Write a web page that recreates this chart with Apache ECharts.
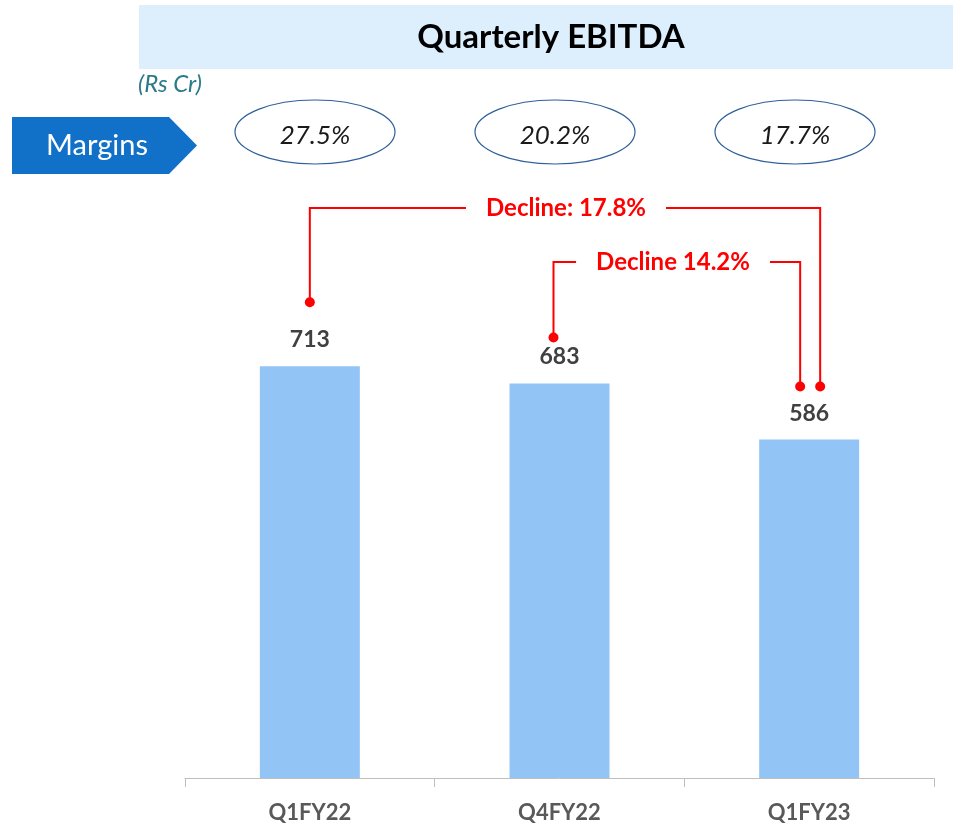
<!DOCTYPE html>
<html>
<head>
<meta charset="utf-8">
<script src="https://cdn.jsdelivr.net/npm/echarts@6/dist/echarts.min.js"></script>
<style>
  html, body { margin: 0; padding: 0; background: #fff; }
  #main { width: 953px; height: 827px; }
</style>
</head>
<body>
<div id="main"></div>
<script>
// 季度 EBITDA 数据
const quarters = ["Q1FY22", "Q4FY22", "Q1FY23"];
const ebitda = [713, 683, 586];
const margins = ["27.5%", "20.2%", "17.7%"];
const declines = ["Decline: 17.8%", "Decline 14.2%"];

const FONT = "Lato, 'Open Sans', sans-serif";
let myChart = echarts.init(document.getElementById("main"));

let option = {
  animation: false,
  grid: { left: 185, right: 19, top: 316, bottom: 49 },
  xAxis: {
    type: "category",
    data: quarters,
    axisLine: { lineStyle: { color: "#bfbfbf", width: 1 } },
    axisTick: { show: true, length: 9, lineStyle: { color: "#bfbfbf" } },
    axisLabel: {
      margin: 24,
      fontFamily: FONT,
      fontSize: 22,
      fontWeight: "bold",
      color: "#595959",
    },
  },
  yAxis: {
    type: "value",
    min: 0,
    max: 800,
    show: false,
    splitLine: { show: false },
  },
  series: [
    {
      type: "bar",
      data: ebitda,
      barWidth: 100,
      itemStyle: { color: "#92c5f5" },
      label: {
        show: true,
        position: "top",
        distance: 15,
        fontFamily: FONT,
        fontSize: 23,
        fontWeight: "bold",
        color: "#404040",
      },
    },
  ],
};
myChart.setOption(option);

// 顶部标题、单位、Margins 箭头和椭圆
let graphics = [
  {
    type: "rect",
    shape: { x: 139, y: 5, width: 814, height: 64 },
    style: { fill: "#ddeefc" },
  },
  {
    type: "text",
    x: 551,
    y: 37,
    style: {
      text: "Quarterly EBITDA",
      font: "bold 33px " + FONT,
      fill: "#000",
      align: "center",
      verticalAlign: "middle",
    },
  },
  {
    type: "text",
    x: 138,
    y: 84,
    style: {
      text: "(Rs Cr)",
      font: "italic 24px " + FONT,
      fill: "#2a7a8c",
      align: "left",
      verticalAlign: "middle",
    },
  },
  {
    type: "polygon",
    shape: { points: [[12, 117], [169, 117], [197, 145.5], [169, 174], [12, 174]] },
    style: { fill: "#1170c8" },
  },
  {
    type: "text",
    x: 97,
    y: 146,
    style: {
      text: "Margins",
      font: "29px " + FONT,
      fill: "#fff",
      align: "center",
      verticalAlign: "middle",
    },
  },
];
const ellipseX = [315, 555, 795];
margins.forEach((m, i) => {
  graphics.push({
    type: "ellipse",
    shape: { cx: ellipseX[i], cy: 132, rx: 80, ry: 32 },
    style: { fill: "#fff", stroke: "#2e5f9a", lineWidth: 1.2 },
  });
  graphics.push({
    type: "text",
    x: ellipseX[i],
    y: 136,
    style: {
      text: m,
      font: "italic 26px " + FONT,
      fill: "#1a1a1a",
      align: "center",
      verticalAlign: "middle",
    },
  });
});

// 红色下降标注：位置从柱子坐标换算
const px = (i, v) => myChart.convertToPixel({ seriesIndex: 0 }, [i, v]);
function bracket(x1, y1, x2, y2, top, text, textX) {
  const red = "#ff0000";
  graphics.push({
    type: "polyline",
    shape: { points: [[x1, y1], [x1, top], [x2, top], [x2, y2]] },
    style: { stroke: red, lineWidth: 2, fill: null },
  });
  graphics.push({ type: "circle", shape: { cx: x1, cy: y1, r: 5 }, style: { fill: red } });
  graphics.push({ type: "circle", shape: { cx: x2, cy: y2, r: 5 }, style: { fill: red } });
  graphics.push({
    type: "text",
    x: textX,
    y: top,
    style: {
      text: text,
      font: "bold 24px " + FONT,
      fill: red,
      align: "center",
      verticalAlign: "middle",
      backgroundColor: "#fff",
      padding: [4, 20, 4, 20],
    },
  });
}
const p0 = px(0, ebitda[0]);
const p1 = px(1, ebitda[1]);
const p2 = px(2, ebitda[2]);
bracket(p0[0], p0[1] - 64, p2[0] + 11, p2[1] - 53, 208, declines[0], 566);
bracket(p1[0] - 6, p1[1] - 46, p2[0] - 9, p2[1] - 53, 262, declines[1], 673);

myChart.setOption({ graphic: graphics });
</script>
</body>
</html>
